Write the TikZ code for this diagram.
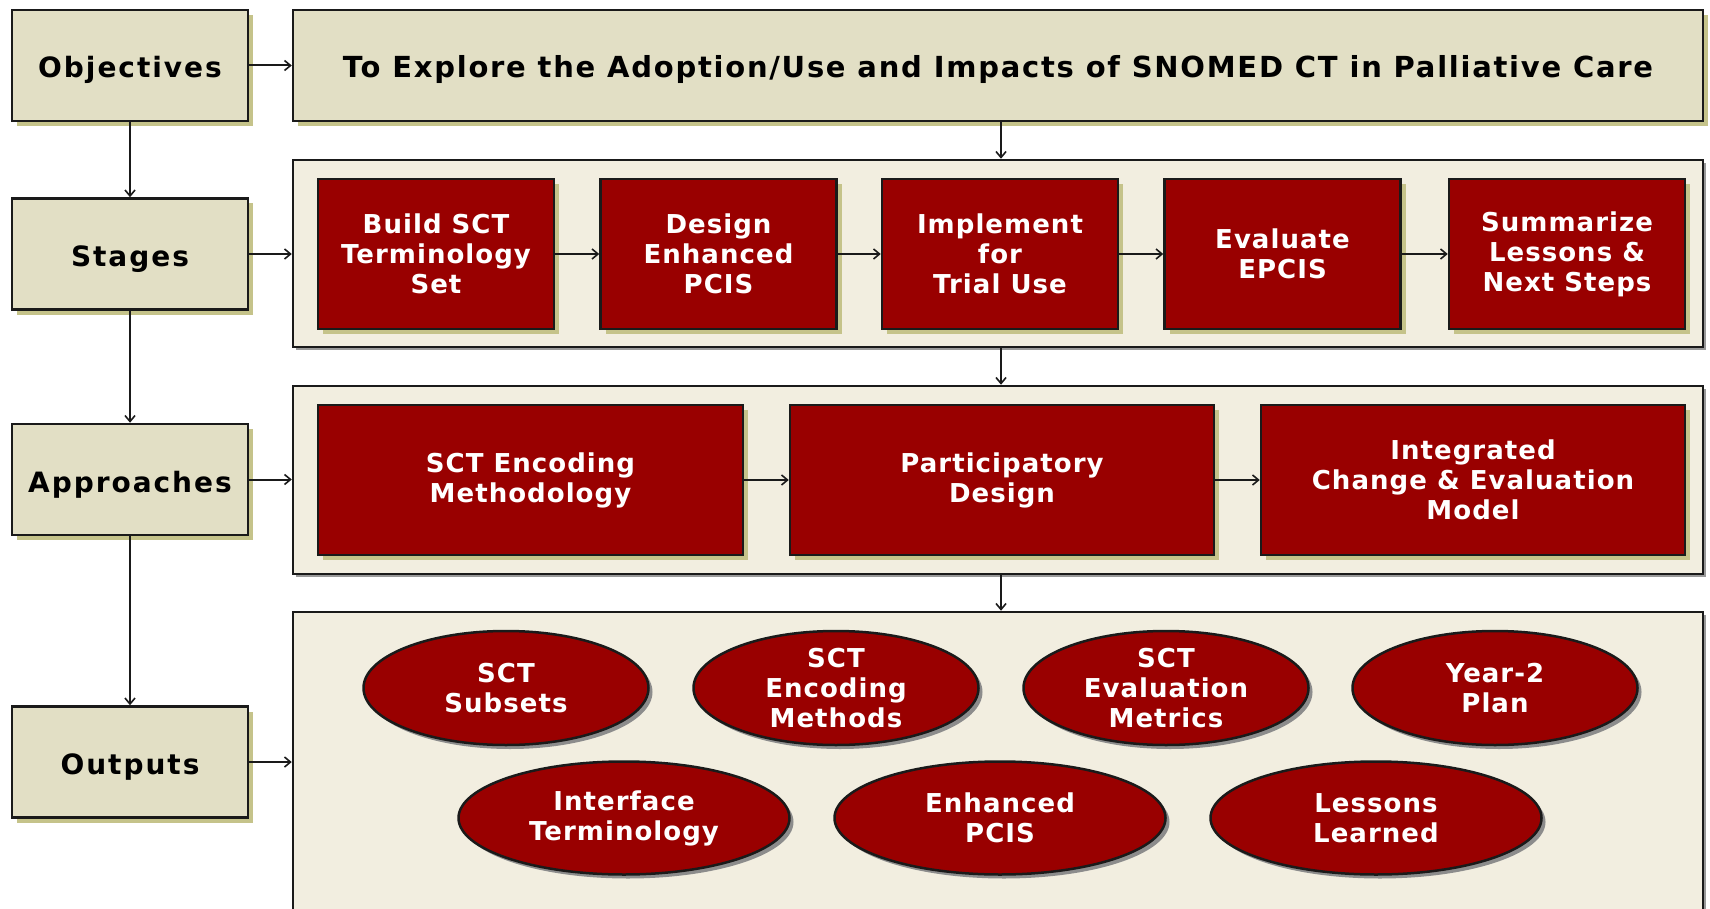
\documentclass[tikz,border=0pt]{standalone}
\usepackage{fontspec}
\setmainfont{DejaVu Sans}
\newfontfamily\lblfont[LetterSpace=7]{DejaVu Sans}
\newfontfamily\titlefont[LetterSpace=6]{DejaVu Sans}
\newfontfamily\redfont[LetterSpace=4]{DejaVu Sans}
\usetikzlibrary{shapes.geometric,shadows,arrows.meta}
\definecolor{beige}{HTML}{E2DFC5}
\definecolor{cream}{HTML}{F2EEE0}
\definecolor{dred}{HTML}{990000}
\definecolor{olivesh}{HTML}{C5C38A}
\definecolor{edge}{HTML}{1A1A1A}
\tikzset{
  lbl/.style={draw=edge, line width=2.5pt, fill=beige, inner sep=0pt,
    minimum width=236pt, minimum height=111pt, align=center,
    text height=25pt, text depth=0pt,
    font=\lblfont\bfseries\fontsize{28}{32}\selectfont,
    general shadow={fill=olivesh, shadow xshift=5pt, shadow yshift=-5pt}},
  cont/.style={draw=edge, line width=2.5pt, fill=cream, inner sep=0pt,
    general shadow={fill=black!40, shadow xshift=3pt, shadow yshift=-3pt}},
  rbox/.style={draw=edge, line width=2.5pt, fill=dred, text=white, inner sep=0pt,
    align=center, font=\redfont\bfseries\fontsize{26}{30}\selectfont,
    general shadow={fill=olivesh, shadow xshift=5pt, shadow yshift=-5pt}},
  oval/.style={ellipse, draw=edge, line width=2.5pt, fill=dred, text=white, inner sep=0pt,
    align=center, font=\redfont\bfseries\fontsize{26}{30}\selectfont,
    general shadow={fill=black!45, shadow xshift=4pt, shadow yshift=-4pt}},
  conn/.style={line width=2pt, draw=edge, -{Straight Barb[length=6pt,width=10pt,line width=1.6pt]}},
}
\begin{document}
\begin{tikzpicture}[x=1pt,y=-1pt]
\useasboundingbox (0,0) rectangle (1710,909);
\clip (0,0) rectangle (1710,909);
\fill[white] (0,0) rectangle (1710,909);

% left labels
\node[lbl] (obj) at (130,65.5) {Objectives};
\node[lbl] (stg) at (130,254) {Stages};
\node[lbl] (app) at (130,479.5) {Approaches};
\node[lbl] (out) at (130,762) {Outputs};

% containers
\node[lbl, minimum width=1410pt, font=\titlefont\bfseries\fontsize{29}{33}\selectfont] (title) at (998,65.5)
  {To Explore the Adoption/Use and Impacts of SNOMED CT in Palliative Care};
\node[cont, minimum width=1410pt, minimum height=187pt] (cstg) at (998,253.5) {};
\node[cont, minimum width=1410pt, minimum height=188pt] (capp) at (998,480) {};
\node[cont, minimum width=1410pt, minimum height=340pt] (cout) at (998,782) {};

% stages
\node[rbox, minimum width=236pt, minimum height=150pt] (s1) at (436,254) {Build SCT\\Terminology\\Set};
\node[rbox, minimum width=236pt, minimum height=150pt] (s2) at (718.5,254) {Design\\Enhanced\\PCIS};
\node[rbox, minimum width=236pt, minimum height=150pt] (s3) at (1000,254) {Implement\\for\\Trial Use};
\node[rbox, minimum width=236pt, minimum height=150pt] (s4) at (1282.5,254) {Evaluate\\EPCIS};
\node[rbox, minimum width=236pt, minimum height=150pt] (s5) at (1567,254) {Summarize\\Lessons \&\\Next Steps};

% approaches
\node[rbox, minimum width=425pt, minimum height=150pt] (a1) at (530.5,480) {SCT Encoding\\Methodology};
\node[rbox, minimum width=424pt, minimum height=150pt] (a2) at (1002,480) {Participatory\\Design};
\node[rbox, minimum width=424pt, minimum height=150pt] (a3) at (1473,480) {Integrated\\Change \& Evaluation\\Model};

% outputs
\node[oval, minimum width=285pt, minimum height=114pt] (o1) at (506,688) {SCT\\Subsets};
\node[oval, minimum width=285pt, minimum height=114pt] (o2) at (836,688) {SCT\\Encoding\\Methods};
\node[oval, minimum width=285pt, minimum height=114pt] (o3) at (1166,688) {SCT\\Evaluation\\Metrics};
\node[oval, minimum width=285pt, minimum height=114pt] (o4) at (1495,688) {Year-2\\Plan};
\node[oval, minimum width=331pt, minimum height=113pt] (o5) at (624,818) {Interface\\Terminology};
\node[oval, minimum width=331pt, minimum height=113pt] (o6) at (1000,818) {Enhanced\\PCIS};
\node[oval, minimum width=331pt, minimum height=113pt] (o7) at (1376,818) {Lessons\\Learned};

% connectors
\draw[conn] (obj) -- (title);
\draw[conn] (stg) -- (stg -| cstg.west);
\draw[conn] (app) -- (app -| capp.west);
\draw[conn] (out) -- (out -| cout.west);
\draw[conn] (obj) -- (stg);
\draw[conn] (stg) -- (app);
\draw[conn] (app) -- (out);
\draw[conn] ([xshift=3pt]title.south) -- ([xshift=3pt]cstg.north);
\draw[conn] ([xshift=3pt]cstg.south) -- ([xshift=3pt]capp.north);
\draw[conn] ([xshift=3pt]capp.south) -- ([xshift=3pt]capp.south |- cout.north);
\draw[conn] (s1) -- (s2);
\draw[conn] (s2) -- (s3);
\draw[conn] (s3) -- (s4);
\draw[conn] (s4) -- (s5);
\draw[conn] (a1) -- (a2);
\draw[conn] (a2) -- (a3);
\end{tikzpicture}
\end{document}
